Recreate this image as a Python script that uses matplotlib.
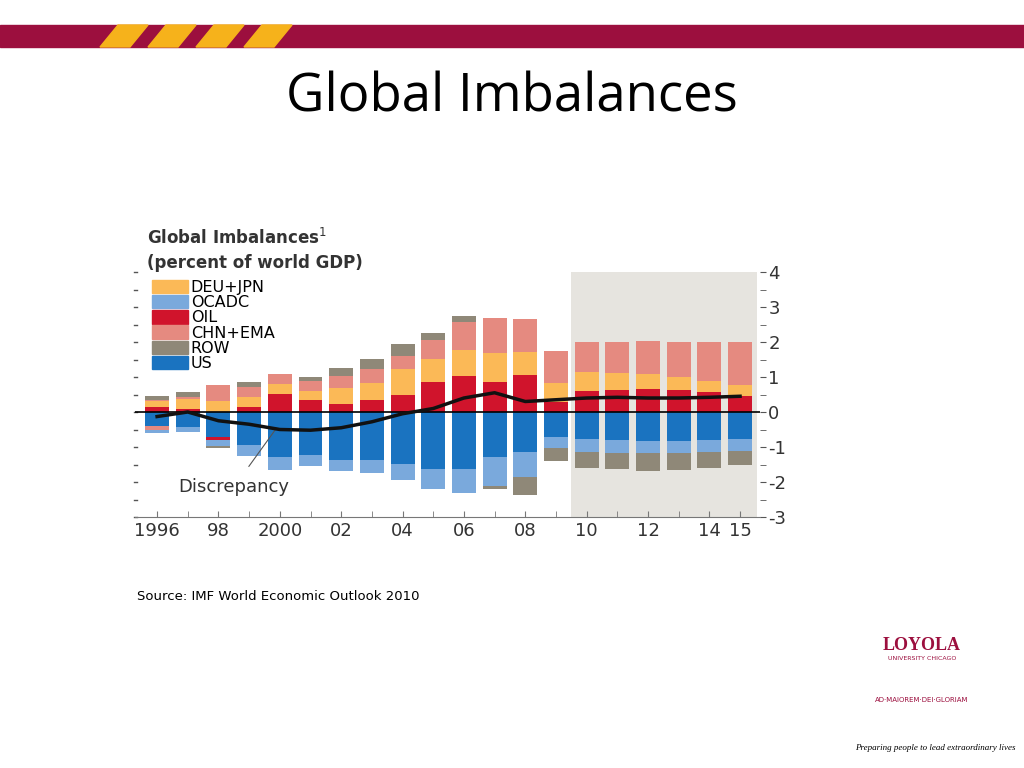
import matplotlib
matplotlib.use("Agg")
import matplotlib.pyplot as plt
from matplotlib.patches import Patch, Rectangle, Polygon
import numpy as np

years = list(range(1996, 2016))
oil_pos = [0.15,0.10,0.00,0.15,0.51,0.33,0.24,0.34,0.48,0.85,1.03,0.86,1.07,0.30,0.60,0.64,0.67,0.64,0.58,0.47]
deujpn  = [0.16,0.27,0.32,0.28,0.28,0.28,0.46,0.48,0.74,0.67,0.75,0.83,0.64,0.53,0.53,0.48,0.41,0.37,0.30,0.31]
chnema  = [0.03,0.07,0.44,0.29,0.30,0.27,0.33,0.40,0.39,0.55,0.80,1.01,0.94,0.91,0.88,0.88,0.96,1.00,1.12,1.21]
row_pos = [0.12,0.14,0.00,0.15,0.00,0.13,0.22,0.29,0.34,0.19,0.16,0.00,0.00,0.00,0.00,0.00,0.00,0.00,0.00,0.00]
us      = [-0.40,-0.42,-0.71,-0.93,-1.28,-1.22,-1.38,-1.38,-1.49,-1.63,-1.63,-1.29,-1.13,-0.71,-0.76,-0.81,-0.84,-0.84,-0.81,-0.76]
oil_neg = [0,0,-0.10,0,0,0,0,0,0,0,0,0,0,0,0,0,0,0,0,0]
ocadc   = [-0.08,-0.15,-0.17,-0.34,-0.39,-0.33,-0.30,-0.35,-0.46,-0.58,-0.68,-0.82,-0.74,-0.32,-0.38,-0.37,-0.34,-0.34,-0.34,-0.35]
chn_neg = [-0.12,0,0,0,0,0,0,0,0,0,0,0,0,0,0,0,0,0,0,0]
row_neg = [0,0,-0.05,0,0,0,0,0,0,0,0,-0.08,-0.50,-0.37,-0.46,-0.46,-0.50,-0.47,-0.46,-0.41]
discrepancy = [-0.13,0.0,-0.25,-0.35,-0.50,-0.52,-0.45,-0.28,-0.05,0.10,0.40,0.55,0.30,0.35,0.40,0.42,0.40,0.40,0.42,0.45]
xticklabels = {1996:"1996",1998:"98",2000:"2000",2002:"02",2004:"04",2006:"06",2008:"08",2010:"10",2012:"12",2014:"14",2015:"15"}

C_DEU="#fbb957"; C_OCADC="#7aa9dc"; C_OIL="#d0142c"; C_CHN="#e58a80"; C_ROW="#8f8878"; C_US="#1a73c0"

fig = plt.figure(figsize=(10.24,7.68), dpi=100)
fig.patch.set_facecolor("white")
fig.add_artist(Rectangle((0,(768-47)/768),1,22/768,transform=fig.transFigure,color="#9c0f3e"))
for i in range(4):
    x0=100+i*48
    fig.add_artist(Polygon([((x0)/1024,(768-47)/768),((x0+30)/1024,(768-47)/768),((x0+48)/1024,(768-25)/768),((x0+18)/1024,(768-25)/768)],
                           closed=True,transform=fig.transFigure,color="#f6b21b"))
fig.text(0.5,(768-98)/768,"Global Imbalances",ha="center",va="center",fontsize=38,family="Open Sans")

ax = fig.add_axes([135/1024,(768-517)/768,625/1024,245/768])
x=np.array(years)
w=0.78
ax.axvspan(2009.5,2015.55,color="#e6e4df",zorder=0,lw=0)
b=np.zeros(20)
for vals,c in [(oil_pos,C_OIL),(deujpn,C_DEU),(chnema,C_CHN),(row_pos,C_ROW)]:
    ax.bar(x,vals,w,bottom=b,color=c,zorder=2); b+=np.array(vals)
b=np.zeros(20)
for vals,c in [(us,C_US),(oil_neg,C_OIL),(chn_neg,C_CHN),(ocadc,C_OCADC),(row_neg,C_ROW)]:
    ax.bar(x,vals,w,bottom=b,color=c,zorder=2); b+=np.array(vals)
ax.axhline(0,color="black",lw=1.2,zorder=3)
ax.plot(x,discrepancy,color="#111111",lw=2.5,zorder=4)
ax.set_xlim(1995.28,2015.65); ax.set_ylim(-3,4)
for s in ["top","left","right"]: ax.spines[s].set_visible(False)
ax.spines["bottom"].set_color("#777777")
ax.set_xticks(years,minor=True); ax.set_xticks(list(xticklabels.keys()))
ax.set_xticklabels(list(xticklabels.values()),fontsize=13,color="#333333")
ax.tick_params(axis="x",which="both",direction="in",length=4,color="#777777")
ax.yaxis.tick_right()
ax.set_yticks(range(-3,5)); ax.set_yticklabels([str(v) for v in range(-3,5)],fontsize=13,color="#333333")
ax.set_yticks(np.arange(-3,4.01,0.5),minor=True)
ax.tick_params(axis="y",which="both",length=4,color="#555555",pad=2)
for yv in np.arange(-3,4.01,0.5):
    ax.plot([1995.25,1995.35],[yv,yv],color="#555555",lw=1,clip_on=False)
ax.annotate("Discrepancy",xy=(1999.9,-0.45),xytext=(1998.5,-2.15),fontsize=13,color="#333333",ha="center",va="center",
            arrowprops=dict(arrowstyle="-",color="#555555",lw=0.8,shrinkB=0,shrinkA=8))
fig.text(147/1024,(768-238)/768,"Global Imbalances$^1$",fontsize=12,fontweight="bold",color="#333333",va="center")
fig.text(147/1024,(768-263)/768,"(percent of world GDP)",fontsize=12,fontweight="bold",color="#333333",va="center")
handles=[Patch(color=c,label=l) for c,l in [(C_DEU,"DEU+JPN"),(C_OCADC,"OCADC"),(C_OIL,"OIL"),(C_CHN,"CHN+EMA"),(C_ROW,"ROW"),(C_US,"US")]]
ax.legend(handles=handles,loc="upper left",bbox_to_anchor=(0.015,1.0),frameon=False,fontsize=11.5,
          handlelength=2.2,handleheight=0.9,labelspacing=0.0,handletextpad=0.2,borderpad=0)
fig.text(137/1024,(768-596)/768,"Source: IMF World Economic Outlook 2010",fontsize=9.5,va="center")
fig.text(922/1024,(768-645)/768,"LOYOLA",fontsize=13,color="#9c0f3e",fontweight="bold",ha="center",va="center",family="Liberation Serif")
fig.text(922/1024,(768-659)/768,"UNIVERSITY CHICAGO",fontsize=4.5,color="#9c0f3e",ha="center",va="center")
fig.text(922/1024,(768-700)/768,"AD·MAIOREM·DEI·GLORIAM",fontsize=5,color="#9c0f3e",ha="center",va="center")
fig.text(935/1024,(768-748)/768,"Preparing people to lead extraordinary lives",fontsize=6.5,style="italic",ha="center",va="center",family="Liberation Serif")
fig.savefig("out.png",dpi=100)
